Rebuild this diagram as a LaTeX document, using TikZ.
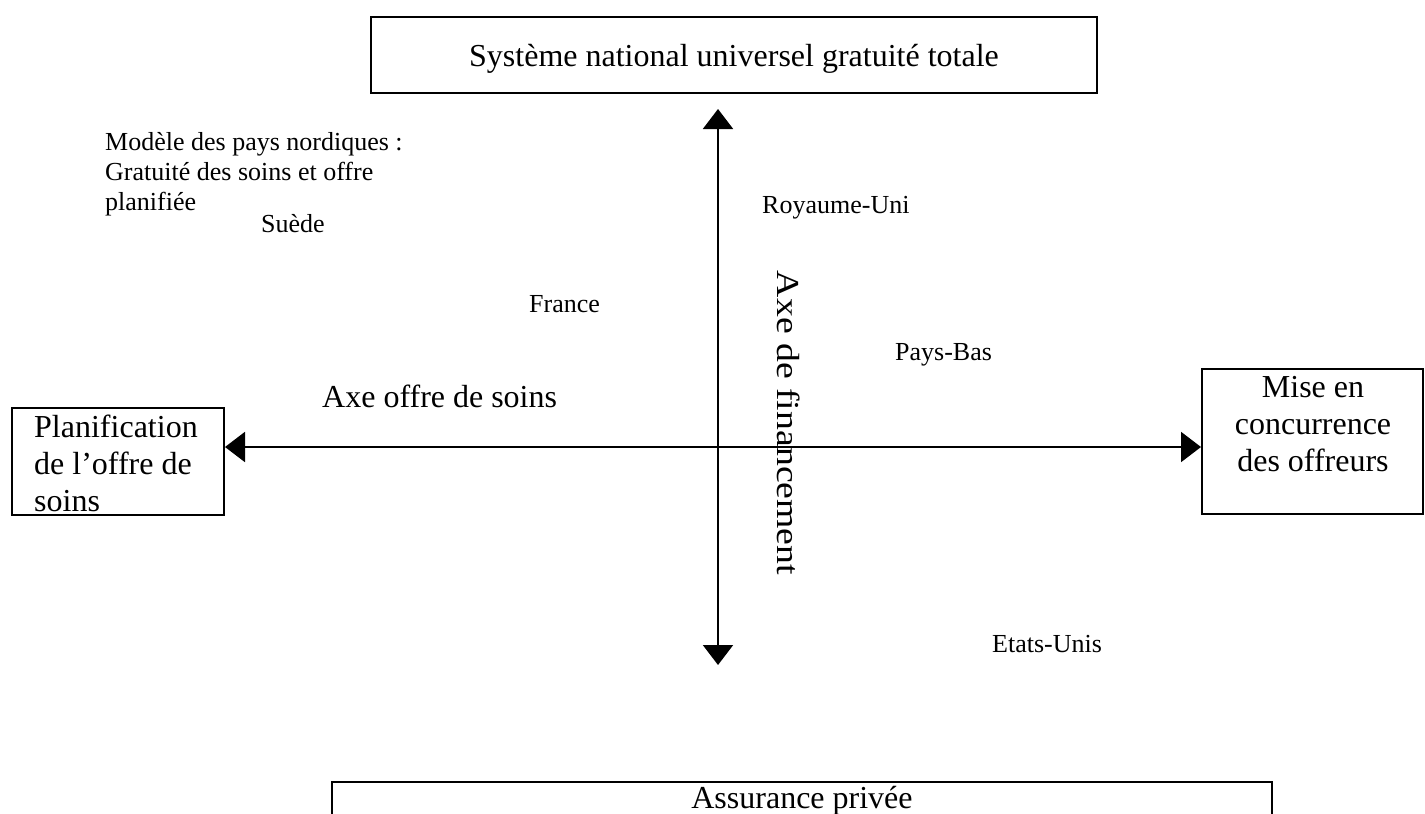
\documentclass[tikz,border=0pt]{standalone}
\usepackage{fontspec}
\setmainfont{Liberation Serif}
\usetikzlibrary{arrows.meta}
\begin{document}
\begin{tikzpicture}[x=1pt,y=-1pt,
  box/.style={draw, line width=2pt, inner sep=0pt},
  big/.style={font=\fontsize{32}{37}\selectfont, inner sep=0pt},
  small/.style={font=\fontsize{26}{30}\selectfont, inner sep=0pt},
  axis/.style={line width=2pt, {Triangle[length=20pt,width=30pt]}-{Triangle[length=20pt,width=30pt]}}
]
\useasboundingbox (0,0) rectangle (1425,814);
\clip (0,0) rectangle (1425,814);
% boxes
\node[box, big, text height=22pt, text depth=0pt, minimum width=726pt, minimum height=76pt] (top) at (734,55) {Système national universel gratuité totale};
\node[box, minimum width=212pt, minimum height=107pt] (left) at (118,461.5) {};
\node[big, align=left, anchor=base west] (lefttext) at (34,511) {Planification\\de l’offre de\\soins};
\node[box, minimum width=221pt, minimum height=145pt] (right) at (1312.5,441.5) {};
\node[big, align=center, anchor=base] (righttext) at (1313,471) {Mise en\\concurrence\\des offreurs};
\node[box, minimum width=940pt, minimum height=100pt] (bottom) at (802,832) {};
\node[big, anchor=base] (bottomtext) at (802,808) {Assurance privée};
% axes
\coordinate (vtop) at (718,109);
\coordinate (vbot) at (718,665);
\coordinate (h) at (718,447);
\draw[axis] (vbot) -- (vtop);
\draw[axis] (h -| left.east) -- (h -| right.west);
% labels
\node[big, rotate=-90] (axefin) at (789,423) {\scalebox{1.18}[1]{Axe de financement}};
\node[big, anchor=base west] (axeoffre) at (322,407) {Axe offre de soins};
\node[small, align=left, anchor=base west] (nordic) at (105,210) {Modèle des pays nordiques :\\Gratuité des soins et offre\\planifiée};
\node[small, anchor=base west] (suede) at (261,232) {Suède};
\node[small, anchor=base west] (france) at (529,312) {France};
\node[small, anchor=base west] (ru) at (762,213) {Royaume-Uni};
\node[small, anchor=base west] (pb) at (895,360) {Pays-Bas};
\node[small, anchor=base west] (eu) at (992,652) {Etats-Unis};
\end{tikzpicture}
\end{document}
